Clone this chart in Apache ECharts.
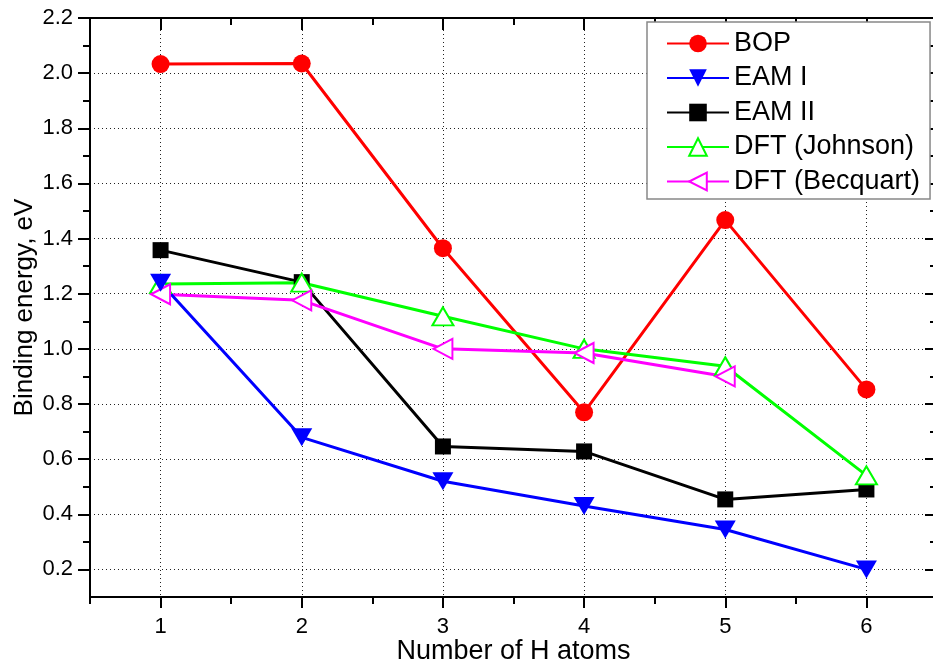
<!DOCTYPE html>
<html>
<head>
<meta charset="utf-8">
<script src="https://cdn.jsdelivr.net/npm/echarts@6/dist/echarts.min.js"></script>
<style>
  html, body { margin: 0; padding: 0; background: #fff; }
  #main { width: 933px; height: 668px; }
</style>
</head>
<body>
<div id="main"></div>
<script>
// number of H atoms
var hAtoms = [1, 2, 3, 4, 5, 6]
var hAtomsBecquart = [1, 2, 3, 4, 5]

// binding energies, eV
var bop = [2.033, 2.035, 1.365, 0.77, 1.467, 0.853]
var eam1 = [1.24, 0.679, 0.52, 0.43, 0.345, 0.2]
var eam2 = [1.358, 1.242, 0.646, 0.628, 0.454, 0.49]
var dftJohnson = [1.235, 1.24, 1.118, 1.0, 0.937, 0.541]
var dftBecquart = [1.198, 1.176, 1.0, 0.985, 0.9]

// ticks
var xMajor = [1, 2, 3, 4, 5, 6]
var xMinor = [0.5, 1.5, 2.5, 3.5, 4.5, 5.5, 6.5]
var yMajor = [0.2, 0.4, 0.6, 0.8, 1.0, 1.2, 1.4, 1.6, 1.8, 2.0, 2.2]
var yMinor = [0.3, 0.5, 0.7, 0.9, 1.1, 1.3, 1.5, 1.7, 1.9, 2.1]

var font = 'Liberation Sans, Arial, sans-serif'

function pairs (xs, ys) {
  return xs.map(function (x, i) { return [x, ys[i]] })
}

function axis (pos, min, max, ticks, len, inside, extra) {
  var a = {
    type: 'value',
    position: pos,
    min: min,
    max: max,
    axisLine: { show: false, lineStyle: { color: '#000', width: 2 } },
    axisTick: { show: true, customValues: ticks, length: len, inside: inside, lineStyle: { color: '#000', width: 2 } },
    axisLabel: { show: false },
    splitLine: { show: false }
  }
  return Object.assign(a, extra || {})
}

var gridLine = { show: true, lineStyle: { color: '#222', width: 1, type: [1, 3] } }

var xAxes = [
  axis('bottom', 0.5, 6.5, xMajor, 11, false, {
    axisLine: { show: true, onZero: false, lineStyle: { color: '#000', width: 2 } },
    axisLabel: { show: true, customValues: xMajor, margin: 19, color: '#000', fontSize: 22, fontFamily: font },
    splitLine: gridLine,
    name: 'Number of H atoms',
    nameLocation: 'middle',
    nameGap: 41,
    nameMoveOverlap: false,
    nameTextStyle: { color: '#000', fontSize: 27, fontFamily: font }
  }),
  axis('bottom', 0.5, 6.5, xMinor, 7, false),
  axis('top', 0.5, 6.5, xMajor, 12, true, {
    axisLine: { show: true, onZero: false, lineStyle: { color: '#000', width: 2 } }
  }),
  axis('top', 0.5, 6.5, xMinor, 7, true)
]

var yAxes = [
  axis('left', 0.1, 2.2, yMajor, 12, false, {
    axisLine: { show: true, onZero: false, lineStyle: { color: '#000', width: 2 } },
    axisLabel: {
      show: true, customValues: yMajor, margin: 17, color: '#000', fontSize: 22, fontFamily: font,
      formatter: function (v) { return v.toFixed(1) }
    },
    splitLine: gridLine,
    name: 'Binding energy, eV',
    nameLocation: 'middle',
    nameGap: 52,
    nameMoveOverlap: false,
    nameTextStyle: { color: '#000', fontSize: 26, fontFamily: font }
  }),
  axis('left', 0.1, 2.2, yMinor, 7, false),
  axis('right', 0.1, 2.2, yMajor, 12, true, {
    axisLine: { show: true, onZero: false, lineStyle: { color: '#000', width: 2 } }
  }),
  axis('right', 0.1, 2.2, yMinor, 7, true)
]

function line (name, xs, ys, color, symbol, size, rotate, open) {
  return {
    name: name,
    type: 'line',
    data: pairs(xs, ys),
    symbol: symbol,
    symbolSize: size,
    symbolRotate: rotate,
    showAllSymbol: true,
    lineStyle: { color: color, width: 3 },
    itemStyle: open
      ? { color: '#fff', borderColor: color, borderWidth: 2 }
      : { color: color, borderWidth: 0 },
    emphasis: { disabled: true },
    animation: false
  }
}

var option = {
  backgroundColor: '#fff',
  animation: false,
  grid: { left: 90, right: -4, top: 18, bottom: 71, containLabel: false, outerBoundsMode: 'none' },
  xAxis: xAxes,
  yAxis: yAxes,
  legend: {
    data: ['BOP', 'EAM I', 'EAM II', 'DFT (Johnson)', 'DFT (Becquart)'],
    orient: 'vertical',
    left: 647,
    top: 22,
    padding: [8, 10, 4, 19],
    itemWidth: 62,
    itemHeight: 22,
    itemGap: 7.5,
    backgroundColor: '#fff',
    borderColor: '#888',
    borderWidth: 1.5,
    borderRadius: 0,
    textStyle: { color: '#000', fontSize: 27, lineHeight: 26, fontFamily: font }
  },
  series: [
    line('BOP', hAtoms, bop, '#ff0000', 'circle', 18, 0, false),
    line('EAM II', hAtoms, eam2, '#000000', 'rect', 16, 0, false),
    line('DFT (Johnson)', hAtoms, dftJohnson, '#00ff00', 'triangle', [21, 18], 0, true),
    line('DFT (Becquart)', hAtomsBecquart, dftBecquart, '#ff00ff', 'triangle', [20, 19], 90, true),
    line('EAM I', hAtoms, eam1, '#0000ff', 'triangle', [21, 18], 180, false)
  ]
}

var chart = echarts.init(document.getElementById('main'))
chart.setOption(option)
</script>
</body>
</html>
